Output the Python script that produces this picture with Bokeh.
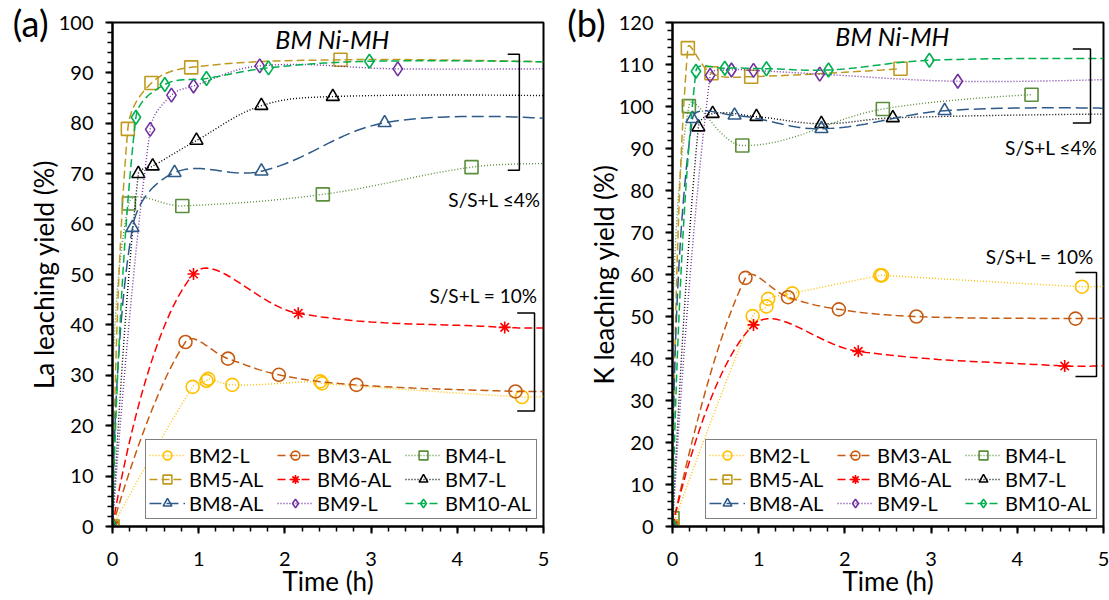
import numpy as np
from bokeh.plotting import figure
from bokeh.models import Range1d, SingleIntervalTicker, FixedTicker, Label, Legend, LegendItem, LinearAxis
from bokeh.layouts import row
from bokeh.embed import file_html
from bokeh.resources import INLINE

# ---------------- data ----------------
names = ["BM2-L", "BM3-AL", "BM4-L", "BM5-AL", "BM6-AL", "BM7-L", "BM8-AL", "BM9-L", "BM10-AL"]

t_bm2 = [0, 0.93, 1.09, 1.11, 1.39, 2.41, 2.43, 4.75]
la_bm2 = [0, 27.7, 28.9, 29.3, 28.1, 28.8, 28.4, 25.7]
k_bm2 = [0, 50.1, 52.4, 54.2, 55.5, 59.8, 59.8, 57.1]

t_bm3 = [0, 0.847, 1.34, 1.93, 2.83, 4.675]
la_bm3 = [0, 36.6, 33.3, 30.1, 28.1, 26.8]
k_bm3 = [0, 59.2, 54.6, 51.7, 50.0, 49.5]

t_bm4 = [0, 0.19, 0.81, 2.44, 4.165]
la_bm4 = [0, 64.1, 63.6, 65.9, 71.3]
k_bm4 = [2.0, 100.1, 90.7, 99.4, 102.8]

t_bm5 = [0, 0.178, 0.452, 0.913, 2.645]
la_bm5 = [0, 78.9, 88.0, 91.1, 92.6]
k_bm5 = [0, 113.9, 107.9, 107.1, 109.0]

t_bm6 = [0, 0.94, 2.155, 4.55]
la_bm6 = [0, 50.1, 42.3, 39.5]
k_bm6 = [0, 48.0, 41.7, 38.2]

t_bm7 = [0, 0.30, 0.466, 0.974, 1.727, 2.556]
la_bm7 = [0, 70.0, 71.5, 76.6, 83.5, 85.3]
k_bm7 = [0, 95.1, 98.3, 97.6, 95.9, 97.3]

t_bm8 = [0, 0.232, 0.72, 1.728, 3.157]
la_bm8 = [0, 59.3, 70.2, 70.5, 80.1]
k_bm8 = [0, 97.1, 97.9, 94.7, 99.0]

t_bm9 = [0, 0.437, 0.684, 0.94, 1.708, 3.31]
la_bm9 = [0, 78.8, 85.6, 87.4, 91.4, 90.8]
k_bm9 = [0, 107.4, 108.7, 108.6, 107.7, 106.0]

t_bm10 = [0, 0.272, 0.607, 1.09, 1.81, 2.98]
la_bm10 = [0, 81.2, 87.7, 88.9, 91.0, 92.3]
k_bm10 = [0, 108.4, 109.1, 109.0, 108.7, 111.0]

# value of each line where it leaves the plot at t = 5 h (None: line stops at last point)
la_tail = [25.8, 26.8, 72.0, 92.2, 39.4, 85.5, 81.0, 90.8, 92.2]
k_tail = [57.2, 49.6, None, None, 38.3, 98.2, 99.6, 106.4, 111.4]

t_all = [t_bm2, t_bm3, t_bm4, t_bm5, t_bm6, t_bm7, t_bm8, t_bm9, t_bm10]
la_all = [la_bm2, la_bm3, la_bm4, la_bm5, la_bm6, la_bm7, la_bm8, la_bm9, la_bm10]
k_all = [k_bm2, k_bm3, k_bm4, k_bm5, k_bm6, k_bm7, k_bm8, k_bm9, k_bm10]

# ---------------- styles ----------------
colors = ["#FFC000", "#C55A11", "#5B8E3C", "#C09A1E", "#FF0000", "#000000", "#2E5A88", "#7030A0", "#00B050"]
dashes = ["1 2", "8 4", "1 2", "8 4", "8 4", "1 2", "12 5", "1 2", "8 4"]
widths = [1.4, 1.5, 1.4, 1.5, 1.5, 1.4, 1.5, 1.4, 1.5]
markers = ["circle", "circle", "square", "square", "asterisk", "triangle", "triangle", "diamond", "diamond"]
msizes = [13, 13, 13, 13, 12, 13, 13, 14, 14]

FONT = "Lato"
T_MAX = 5.0


def smooth(ts, ys, sx, sy, k=0.38, n=30):
    """Excel-like smoothed line (Bezier through the points, in screen space)."""
    P = np.column_stack([np.asarray(ts, float) * sx, np.asarray(ys, float) * sy])
    m = len(P)
    cin = P.copy()
    cout = P.copy()
    for i in range(1, m - 1):
        T = P[i + 1] - P[i - 1]
        d1 = np.linalg.norm(P[i] - P[i - 1])
        d2 = np.linalg.norm(P[i + 1] - P[i])
        s = d1 + d2
        if s == 0:
            continue
        cin[i] = P[i] - T * k * d1 / s
        cout[i] = P[i] + T * k * d2 / s
    u = np.linspace(0, 1, n)[:, None]
    pts = [P[:1]]
    for i in range(m - 1):
        b = ((1 - u) ** 3) * P[i] + 3 * ((1 - u) ** 2) * u * cout[i] + 3 * (1 - u) * (u ** 2) * cin[i + 1] + (u ** 3) * P[i + 1]
        pts.append(b[1:])
    pts = np.vstack(pts)
    return pts[:, 0] / sx, pts[:, 1] / sy


def make_panel(values, tails, ymax, ylabel, tag, width, border_left, border_right, border_top,
               title_y, note4, note10, br4, br10, tag_standoff):
    frame_w = width - border_left - border_right
    frame_h = 600 - border_top - 74
    p = figure(width=width, height=600, x_range=Range1d(0, T_MAX), y_range=Range1d(0, ymax),
               output_backend="svg", toolbar_location=None,
               min_border_left=border_left, min_border_right=border_right,
               min_border_top=border_top, min_border_bottom=74)
    p.background_fill_color = "white"
    p.border_fill_color = "white"
    p.outline_line_color = "black"
    p.outline_line_width = 2
    p.xgrid.visible = False
    p.ygrid.visible = False

    p.xaxis.ticker = SingleIntervalTicker(interval=1, num_minor_ticks=5)
    p.yaxis.ticker = SingleIntervalTicker(interval=10, num_minor_ticks=5)
    for ax in (p.xaxis[0], p.yaxis[0]):
        ax.axis_line_width = 2
        ax.axis_line_color = "black"
        ax.major_tick_line_width = 2
        ax.minor_tick_line_width = 1.5
        ax.major_tick_out = 7
        ax.major_tick_in = 0
        ax.minor_tick_out = 5
        ax.minor_tick_in = 0
        ax.major_label_text_font = FONT
        ax.major_label_text_font_size = "20px"
        ax.major_label_text_color = "black"
        ax.axis_label_text_font = FONT
        ax.axis_label_text_font_size = "26px"
        ax.axis_label_text_font_style = "normal"
        ax.axis_label_text_color = "black"
    p.xaxis.axis_label = "Time (h)"
    p.yaxis.axis_label = ylabel
    p.yaxis.major_label_standoff = 12
    p.xaxis.major_label_standoff = 18
    p.yaxis.axis_label_standoff = -4
    p.xaxis.axis_label_standoff = -4

    # panel tag "(a)" / "(b)": an outer, tick-less left axis whose label sits at the top
    tag_axis = LinearAxis(ticker=FixedTicker(ticks=[]), axis_line_color=None,
                          major_tick_out=0, major_tick_in=0, minor_tick_out=0, minor_tick_in=0,
                          axis_label=tag, axis_label_text_font=FONT, axis_label_text_font_size="36px",
                          axis_label_text_font_style="normal", axis_label_text_color="black",
                          axis_label_orientation="horizontal", axis_label_align="end",
                          axis_label_standoff=tag_standoff)
    p.add_layout(tag_axis, "left")

    sx = frame_w / T_MAX
    sy = frame_h / ymax
    items = []
    for i, name in enumerate(names):
        ts = list(t_all[i])
        ys = list(values[i])
        if tails[i] is not None:
            ts_line = ts + [T_MAX]
            ys_line = ys + [tails[i]]
        else:
            ts_line, ys_line = ts, ys
        lx, ly = smooth(ts_line, ys_line, sx, sy)
        lr = p.line(lx, ly, line_color=colors[i], line_width=widths[i], line_dash=dashes[i])
        sr = p.scatter(ts, ys, marker=markers[i], size=msizes[i], line_color=colors[i],
                       line_width=1.6, fill_alpha=0)
        items.append(LegendItem(label=name, renderers=[lr, sr]))

    leg = Legend(items=items, orientation="horizontal", ncols=3, location=(33, 7))
    leg.label_text_font = FONT
    leg.label_text_font_size = "20px"
    leg.label_text_line_height = 1.0
    leg.label_text_color = "black"
    leg.glyph_width = 36
    leg.glyph_height = 22
    leg.label_standoff = 4
    leg.label_height = 20
    leg.label_width = 88
    leg.spacing = 0
    leg.padding = 3
    leg.margin = 0
    leg.border_line_color = "black"
    leg.border_line_width = 1.5
    leg.background_fill_alpha = 1
    p.add_layout(leg)

    # title
    p.add_layout(Label(x=2.55, y=title_y, text="BM Ni-MH", text_font=FONT, text_font_size="25px",
                       text_font_style="italic", text_align="center", text_baseline="middle",
                       text_color="black"))
    # notes
    p.add_layout(Label(x=note4[0], y=note4[1], text="S/S+L \u22644%", text_font=FONT, text_font_size="19px",
                       text_align="right", text_baseline="middle", text_color="black"))
    p.add_layout(Label(x=note10[0], y=note10[1], text="S/S+L = 10%", text_font=FONT, text_font_size="19px",
                       text_align="right", text_baseline="middle", text_color="black"))
    # brackets
    for (x0, x1, y0, y1) in (br4, br10):
        p.line([x0, x1, x1, x0], [y0, y0, y1, y1], line_color="black", line_width=1.5)
    return p


p1 = make_panel(la_all, la_tail, 100, "La leaching yield (%)", "(a)", 555, 112, 12, 20,
                96.8, (4.965, 64.8), (4.93, 45.8),
                (4.585, 4.72, 93.7, 70.7), (4.695, 4.896, 42.35, 22.9), -24)
p2 = make_panel(k_all, k_tail, 120, "K leaching yield (%)", "(b)", 554, 117, 6, 22,
                116.7, (4.927, 90.3), (4.888, 64.3),
                (4.644, 4.849, 113.7, 96.1), (4.675, 4.919, 60.5, 35.7), -21)

layout = row(p1, p2)
open("out.html", "w").write(file_html(layout, INLINE))
